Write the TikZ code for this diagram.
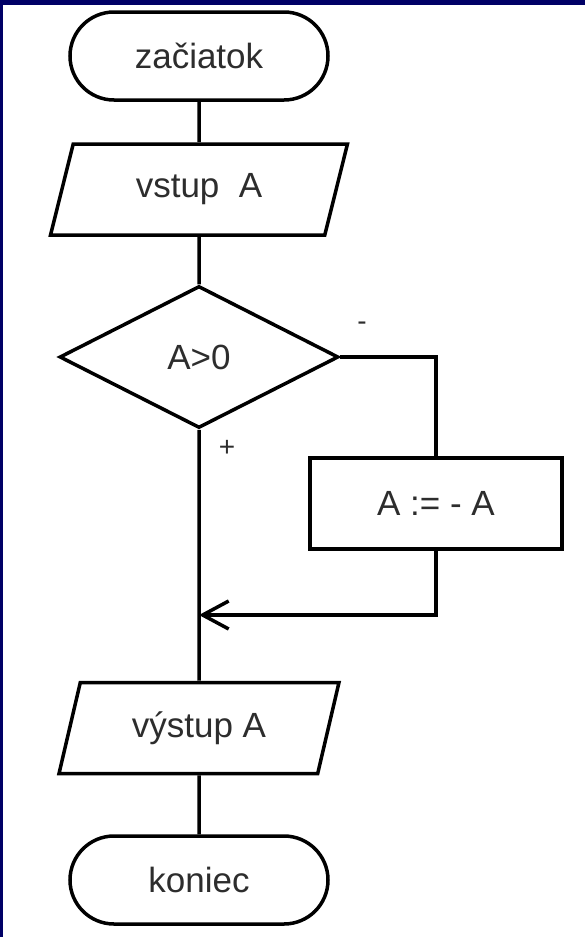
\documentclass[tikz,border=0pt]{standalone}
\usepackage{fontspec}
\setmainfont{Liberation Sans}
\usetikzlibrary{shapes.geometric,shapes.misc,arrows.meta}
\definecolor{navy}{RGB}{0,0,102}
\definecolor{txt}{RGB}{45,45,45}
\begin{document}
\begin{tikzpicture}[x=1pt,y=-1pt,
  every node/.style={font=\fontsize{35}{40}\selectfont, text=txt, inner sep=0pt},
  box/.style={draw=black, line width=3.5pt},
  term/.style={box, rounded rectangle, minimum width=258pt, minimum height=88pt},
  para/.style={box, trapezium, trapezium left angle=70, trapezium right angle=110, trapezium stretches=true, minimum height=91pt},
  dec/.style={box, diamond, minimum width=279pt, minimum height=142pt},
  proc/.style={box, rectangle, minimum width=252pt, minimum height=91pt},
  conn/.style={line width=3.5pt, draw=black},
  sign/.style={font=\fontsize{28}{30}\selectfont}
]
\useasboundingbox (0,0) rectangle (585,937);
\fill[white] (-5,-5) rectangle (592,944);
\fill[navy] (-5,-5) rectangle (592,5);
\fill[navy] (-5,-5) rectangle (3,944);

\node[term] (start) at (199,56) {začiatok};
\node[para, minimum width=297pt] (in) at (199,189.5) {vstup\ \ A};
\node[dec] (dec) at (199,357) {A>0};
\node[proc] (neg) at (436,503.5) {A := - A};
\node[para, minimum width=280pt] (out) at (199,728) {výstup A};
\node[term] (end) at (199,880) {koniec};
\coordinate (join) at (199,615);
\coordinate (corner1) at (436,357);
\coordinate (corner2) at (436,615);

\node[sign] (plus) at (227,448) {+};
\node[sign] (minus) at (362,326) {-};

\draw[conn] (start) -- (in);
\draw[conn] (in) -- (dec);
\draw[conn] (dec.south) -- (out.north);
\draw[conn] (dec.east) -- (corner1) -- (neg.north);
\draw[conn, -{Straight Barb[length=26pt,width=28pt,line width=3.5pt]}] (neg.south) -- (corner2) -- (join);
\draw[conn] (out) -- (end);
\end{tikzpicture}
\end{document}
